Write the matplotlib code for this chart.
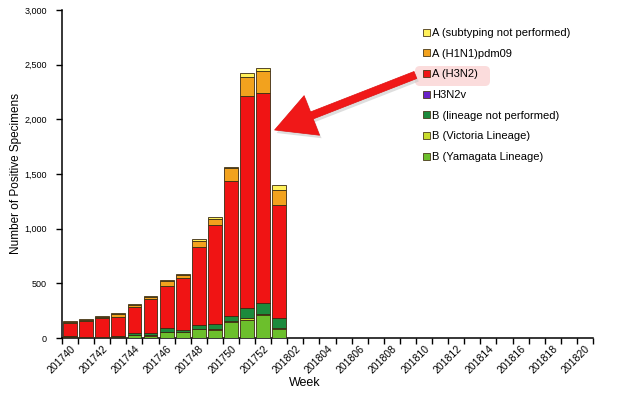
import numpy as np
import matplotlib
matplotlib.use('Agg')
import matplotlib.pyplot as plt
import matplotlib.patches as mpatches
from matplotlib.ticker import FuncFormatter, MultipleLocator

plt.rcParams['font.family'] = ['Liberation Sans', 'DejaVu Sans']

weeks = ['201740', '201741', '201742', '201743', '201744', '201745', '201746',
         '201747', '201748', '201749', '201750', '201751', '201752', '201801',
         '201802', '201803', '201804', '201805', '201806', '201807', '201808',
         '201809', '201810', '201811', '201812', '201813', '201814', '201815',
         '201816', '201817', '201818', '201819', '201820']

# counts per week (only weeks with data so far)
yamagata = [5, 4, 3, 10, 24, 20, 55, 52, 78, 76, 147, 169, 208, 85]
victoria = [1, 1, 1, 2, 2, 3, 3, 3, 3, 3, 13, 15, 16, 8]
b_nolin = [8, 8, 4, 10, 24, 20, 35, 18, 42, 45, 40, 86, 92, 92]
h3n2v = [0, 0, 0, 0, 0, 0, 0, 0, 0, 0, 0, 0, 0, 0]
h3n2 = [120, 140, 176, 172, 235, 312, 385, 478, 710, 910, 1238, 1945, 1929, 1030]
h1n1 = [15, 14, 10, 25, 18, 18, 45, 25, 55, 58, 116, 174, 195, 135]
a_nosub = [5, 6, 5, 10, 12, 9, 12, 8, 15, 15, 12, 39, 28, 50]

series = [
    ('B (Yamagata Lineage)', yamagata, '#6cbf2c'),
    ('B (Victoria Lineage)', victoria, '#c8dc2c'),
    ('B (lineage not performed)', b_nolin, '#1c8a3c'),
    ('H3N2v', h3n2v, '#6a22c8'),
    ('A (H3N2)', h3n2, '#f01414'),
    ('A (H1N1)pdm09', h1n1, '#f2a21e'),
    ('A (subtyping not performed)', a_nosub, '#fff05a'),
]

fig = plt.figure(figsize=(6.19, 3.95), dpi=100)
ax = fig.add_axes([0.1002, 0.1443, 0.8578, 0.8304])

x = np.arange(len(yamagata))
bottom = np.zeros(len(x))
handles = []
for name, vals, col in series:
    vals = np.array(vals, dtype=float)
    ax.bar(x, vals, bottom=bottom, width=0.86, color=col,
           edgecolor='#3a2a12', linewidth=0.6, zorder=3)
    bottom += vals
    handles.append(mpatches.Patch(facecolor=col, edgecolor='#4a3a1a', linewidth=0.6, label=name))

ax.set_xlim(-0.5, len(weeks) - 0.5)
ax.set_ylim(0, 3000)
ax.yaxis.set_major_locator(MultipleLocator(500))
ax.yaxis.set_major_formatter(FuncFormatter(lambda v, p: f'{int(v):,}'))

ax.set_xticks(np.arange(0, len(weeks), 2))
ax.set_xticklabels(weeks[::2], rotation=45, ha='right', va='top',
                   rotation_mode='anchor', fontsize=7.5)
ax.set_xticks(np.arange(len(weeks) + 1) - 0.5, minor=True)
ax.tick_params(axis='x', which='major', length=0, pad=4)
ax.tick_params(axis='x', which='minor', length=4, width=1, direction='out')
ax.tick_params(axis='y', length=4, width=1, direction='out', labelsize=6.5, pad=7)

for s in ['top', 'right']:
    ax.spines[s].set_visible(False)
for s in ['left', 'bottom']:
    ax.spines[s].set_linewidth(1.1)

ax.set_ylabel('Number of Positive Specimens', fontsize=8.5)
ax.yaxis.set_label_coords(-0.075, 0.5)
ax.set_xlabel('Week', fontsize=9)
ax.xaxis.set_label_coords(0.458, -0.12)

# pink highlight behind "A (H3N2)"
hl = mpatches.FancyBboxPatch((415, 395 - 86), 75, 20,
                             boxstyle='round,pad=0,rounding_size=5',
                             transform=None, facecolor='#fbdcdc',
                             edgecolor='none', zorder=1, clip_on=False)
ax.add_patch(hl)

leg = ax.legend(handles=handles[::-1], loc='upper left',
                bbox_to_anchor=(423 / 619, 1 - 28 / 395),
                bbox_transform=fig.transFigure, frameon=False,
                fontsize=8, handlelength=0.6, handleheight=0.6,
                handletextpad=0.25, labelspacing=0.96, borderpad=0,
                borderaxespad=0)
leg.set_zorder(6)

# red arrow pointing from legend to the peak bar
arrow_kw = dict(arrowstyle='simple,head_length=1.6,head_width=1.7,tail_width=0.3',
                connectionstyle='arc3')
ax.annotate('', xy=(274, 395 - 134), xycoords='figure pixels',
            xytext=(420, 395 - 77), textcoords='figure pixels',
            arrowprops=dict(fc='#c8c8c8', ec='none', alpha=0.6, mutation_scale=18, **arrow_kw),
            zorder=7, annotation_clip=False)
ax.annotate('', xy=(272, 395 - 131), xycoords='figure pixels',
            xytext=(418, 395 - 74), textcoords='figure pixels',
            arrowprops=dict(fc='#f01818', ec='#e01010', lw=0.5, mutation_scale=18, **arrow_kw),
            zorder=8, annotation_clip=False)

fig.savefig('out.png', dpi=100)
